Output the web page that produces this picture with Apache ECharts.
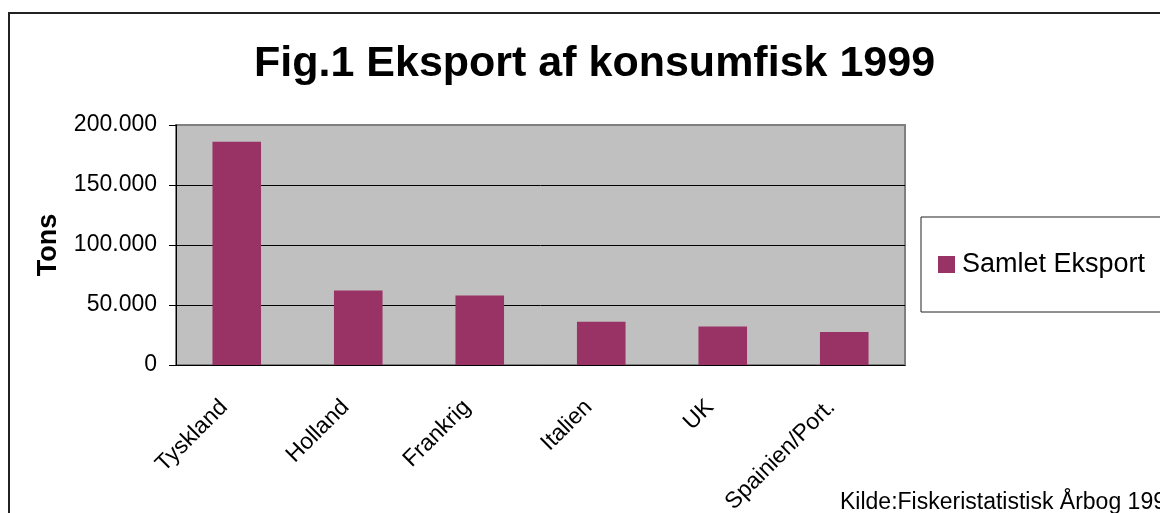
<!DOCTYPE html>
<html>
<head>
<meta charset="utf-8">
<script src="https://cdn.jsdelivr.net/npm/echarts@6/dist/echarts.min.js"></script>
<style>
  html, body { margin: 0; padding: 0; background: #fff; }
  #chart { width: 1160px; height: 513px; }
</style>
</head>
<body>
<div id="chart"></div>
<script>
const countries = ['Tyskland', 'Holland', 'Frankrig', 'Italien', 'UK', 'Spainien/Port.']
const eksport = [186000, 62000, 58000, 36000, 32000, 27500]
const yTicks = [0, 50000, 100000, 150000, 200000]

const font = '"Liberation Sans", Arial, sans-serif'
const chart = echarts.init(document.getElementById('chart'))

// tusindtalsseparator med punktum, som i originalen
const fmt = v => v === 0 ? '0' : String(v).replace(/\B(?=(\d{3})+(?!\d))/g, '.')

chart.setOption({
  animation: false,
  textStyle: { fontFamily: font },
  title: {
    text: 'Fig.1 Eksport af konsumfisk 1999',
    left: 254, top: 43, padding: 0,
    textStyle: { fontSize: 43, fontWeight: 'bold', color: '#000', fontFamily: font },
  },
  graphic: [
    // ramme om hele diagrammet (går ud over kanten)
    { type: 'rect', shape: { x: 9, y: 13, width: 1300, height: 700 }, style: { fill: null, stroke: '#222', lineWidth: 2 }, silent: true, z: -10 },
    { type: 'text', left: 840, top: 491, style: { text: 'Kilde:Fiskeristatistisk Årbog 1999', font: '23px ' + font, fill: '#000' } },
  ],
  legend: {
    data: ['Samlet Eksport'],
    left: 921, top: 217,
    orient: 'vertical',
    padding: [34, 40, 34, 17],
    itemWidth: 17, itemHeight: 17,
    icon: 'rect',
    borderColor: '#222', borderWidth: 1,
    backgroundColor: '#fff',
    textStyle: { fontSize: 27, color: '#000', fontFamily: font, padding: [0, 0, 0, 2] },
  },
  grid: {
    left: 176, right: 255, top: 125, bottom: 148,
    outerBoundsMode: 'none', containLabel: false,
    show: true, backgroundColor: '#c0c0c0', borderColor: '#808080', borderWidth: 2,
  },
  xAxis: {
    type: 'category',
    data: countries,
    axisLine: { lineStyle: { color: '#000', width: 1 } },
    axisTick: { length: 7, lineStyle: { color: '#000' } },
    axisLabel: { rotate: 45, fontSize: 23, color: '#000', margin: 26, padding: [0, 18, 0, 0], interval: 0, fontFamily: font },
  },
  yAxis: {
    type: 'value',
    min: yTicks[0], max: yTicks[yTicks.length - 1], interval: 50000,
    name: 'Tons', nameLocation: 'middle', nameRotate: 90, nameGap: 114,
    nameTextStyle: { fontSize: 27, fontWeight: 'bold', color: '#000', fontFamily: font },
    axisLine: { show: true, lineStyle: { color: '#000', width: 1 } },
    axisTick: { show: true, length: 7, lineStyle: { color: '#000' } },
    axisLabel: { fontSize: 23, color: '#000', margin: 19, formatter: fmt, fontFamily: font },
    splitLine: { showMaxLine: false, lineStyle: { color: '#000', width: 1 } },
  },
  series: [{
    name: 'Samlet Eksport',
    type: 'bar',
    data: eksport,
    barCategoryGap: '60%',
    itemStyle: { color: '#993366' },
  }],
})
</script>
</body>
</html>
